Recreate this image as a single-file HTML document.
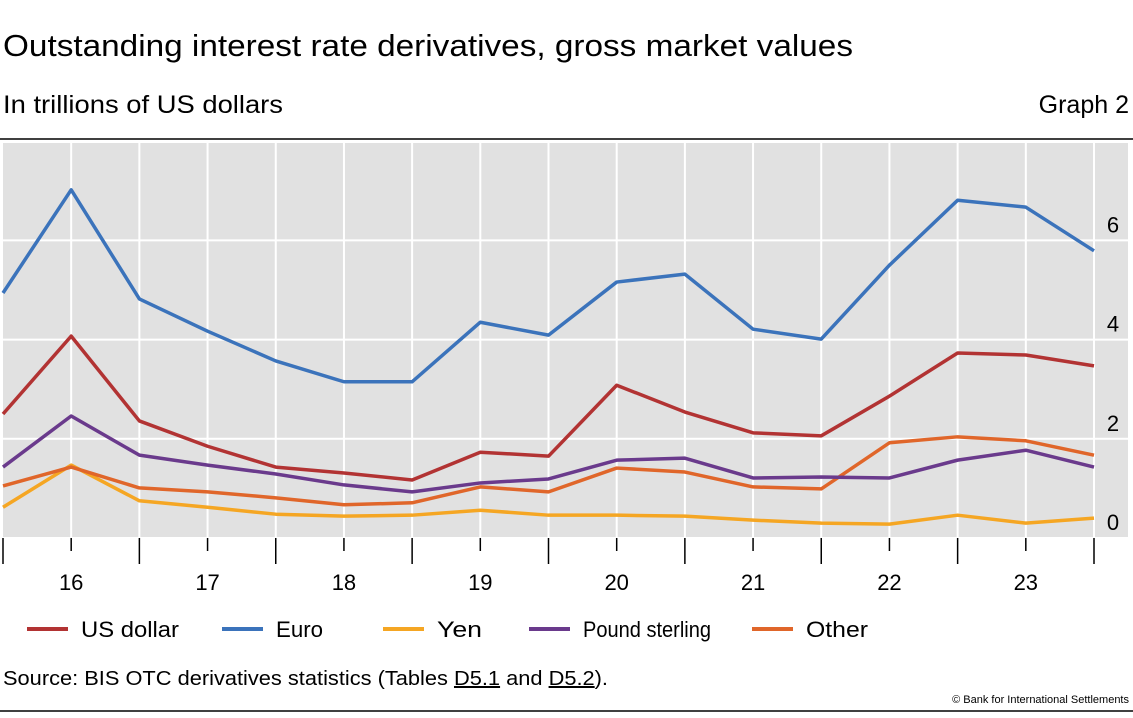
<!DOCTYPE html>
<html><head><meta charset="utf-8"><style>
body{margin:0;width:1133px;height:713px;background:#fff;font-family:"Liberation Sans",sans-serif;overflow:hidden}
</style></head><body>
<svg width="1133" height="713" xmlns="http://www.w3.org/2000/svg" font-family="Liberation Sans, sans-serif">
<text x="3" y="56" font-size="31" textLength="850" lengthAdjust="spacingAndGlyphs" fill="#000">Outstanding interest rate derivatives, gross market values</text>
<text x="3" y="113" font-size="25" textLength="280" lengthAdjust="spacingAndGlyphs" fill="#000">In trillions of US dollars</text>
<text x="1129" y="113" font-size="25" text-anchor="end" fill="#000">Graph 2</text>
<line x1="0" y1="139" x2="1133" y2="139" stroke="#000" stroke-width="1.5"/>
<rect x="3" y="143" width="1125" height="394" fill="#e1e1e1"/>
<g id="grid"></g>
<g id="series"></g>
<g id="axes"></g>
<g id="legend"></g>
<text x="3" y="685" font-size="20" textLength="605" lengthAdjust="spacingAndGlyphs" fill="#000">Source: BIS OTC derivatives statistics (Tables <tspan text-decoration="underline">D5.1</tspan> and <tspan text-decoration="underline">D5.2</tspan>).</text>
<text x="1129" y="703" font-size="11" text-anchor="end" fill="#000">© Bank for International Settlements</text>
<line x1="0" y1="711" x2="1133" y2="711" stroke="#000" stroke-width="1.5"/>
</svg>
<script>
const years = ["16","17","18","19","20","21","22","23"];
const yTicks = [0,2,4,6];
const usd = [2.5,4.07,2.36,1.85,1.43,1.31,1.17,1.73,1.65,3.08,2.54,2.12,2.06,2.86,3.73,3.69,3.47];
const eur = [4.94,7.02,4.82,4.17,3.57,3.15,3.15,4.35,4.09,5.16,5.32,4.21,4.01,5.5,6.81,6.67,5.79];
const yen = [0.62,1.47,0.75,0.62,0.48,0.44,0.46,0.56,0.46,0.46,0.44,0.36,0.30,0.28,0.46,0.30,0.40];
const gbp = [1.43,2.46,1.67,1.47,1.29,1.07,0.93,1.11,1.19,1.57,1.61,1.21,1.23,1.21,1.57,1.77,1.43];
const oth = [1.05,1.43,1.01,0.93,0.81,0.67,0.71,1.03,0.93,1.41,1.33,1.03,0.99,1.92,2.04,1.96,1.67];
const seriesNames = ["US dollar","Euro","Yen","Pound sterling","Other"];

const NS="http://www.w3.org/2000/svg";
const xS=i=>3+i*68.1875;
const yS=v=>538-v*49.6;
function mk(t,a,p){const e=document.createElementNS(NS,t);for(const k in a)e.setAttribute(k,a[k]);p.appendChild(e);return e;}
const grid=document.getElementById('grid'),ser=document.getElementById('series'),ax=document.getElementById('axes'),lg=document.getElementById('legend');
for(let i=1;i<17;i++){const l=mk('line',{x1:xS(i),x2:xS(i),y1:143,y2:537,stroke:'#fff','stroke-width':2},grid);

}
yTicks.forEach(v=>{if(v>0){const l=mk('line',{x1:3,x2:1128,y1:yS(v),y2:yS(v),stroke:'#fff','stroke-width':2},grid);

}
const t=mk('text',{x:1113,y:yS(v)-8,'font-size':22,'text-anchor':'middle',fill:'#000'},ax);t.textContent=v;

});
for(let i=0;i<17;i++){const major=i%2===0;const l=mk('line',{x1:xS(i),x2:xS(i),y1:538,y2:major?564:551,stroke:'#000','stroke-width':1.5},ax);

}
years.forEach((y,k)=>{const t=mk('text',{x:xS(2*k+1),y:590,'font-size':22,'text-anchor':'middle',fill:'#000'},ax);t.textContent=y;

});
const data=[usd,eur,yen,gbp,oth];
const colors=['#b23333','#3b73bb','#f5a623','#6a3a8c','#e0662a'];
const order=[2,4,3,0,1];
order.forEach(s=>{const p=mk('polyline',{points:data[s].map((v,i)=>xS(i)+','+yS(v)).join(' '),fill:'none',stroke:colors[s],'stroke-width':3.5,'stroke-linejoin':'round'},ser);

});
const lx=[27,222,383,529,752];
const lw=[98,47,45,128,62];
seriesNames.forEach((n,s)=>{const l=mk('line',{x1:lx[s],x2:lx[s]+41,y1:629,y2:629,stroke:colors[s],'stroke-width':4},lg);


const t=mk('text',{x:lx[s]+54,y:637,'font-size':22,fill:'#000',textLength:lw[s],lengthAdjust:'spacingAndGlyphs'},lg);t.textContent=n;

});
</script>
</body></html>
